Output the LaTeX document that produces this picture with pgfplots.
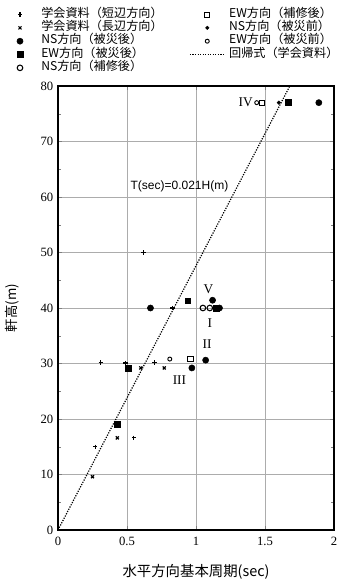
\documentclass[border=0pt]{standalone}
\usepackage{fontspec}
\setmainfont{Liberation Serif}
\newfontfamily\jp{Noto Sans CJK JP}
\newfontfamily\sans{Liberation Sans}
\usepackage{pgfplots}
\pgfplotsset{compat=1.18}
\pgfplotsset{marklegend/.style={legend image code/.code={\path[draw=none,fill=none] (0pt,-2pt) rectangle (26pt,2pt);\draw[mark repeat=2,mark phase=2,##1] plot coordinates {(0pt,0pt) (13pt,0pt) (26pt,0pt)};}},
  linelegend/.style={legend image code/.code={\path[draw=none,fill=none] (0pt,-2pt) rectangle (26pt,2pt);\draw[##1] (0pt,0pt) -- (26pt,0pt);}}}
\begin{document}
\begin{tikzpicture}
\begin{axis}[
  at={(43.5pt,36.75pt)}, anchor=south west,
  scale only axis, width=207pt, height=333pt,
  xmin=0, xmax=2, ymin=0, ymax=80,
  xtick={0,0.5,1,1.5,2}, xticklabels={0,0.5,1,1.5,2},
  ytick={0,10,...,80},
  minor y tick num=1,
  tick align=inside,
  major tick length=3pt, minor tick length=2pt,
  grid=major,
  major grid style={gray!65, line width=0.5pt},
  axis line style={line width=0.8pt},
  /pgf/number format/assume math mode=true,
  tick label style={font=\fontsize{9.5}{10}\selectfont},
  xticklabel style={yshift=-2pt},
  xlabel={\jp 水平方向基本周期(sec)},
  ylabel={\jp 軒高(m)},
  xlabel style={at={(axis description cs:0.5,-0.095)}, anchor=center, font=\fontsize{10.8}{11}\selectfont},
  ylabel style={at={(axis description cs:-0.167,0.5)}, anchor=center, font=\fontsize{10}{11}\selectfont},
  legend columns=2,
  legend cell align=left,
  legend style={at={(axis description cs:-0.2005,1.176)}, anchor=north west,
    draw=none, fill=none, inner sep=0pt, outer sep=0pt,
    font=\jp\fontsize{9.1}{10}\selectfont,
    nodes={inner sep=0pt, text height=7pt, text depth=3pt, font=\jp\fontsize{9.1}{10}\selectfont},
    /tikz/every odd column/.append style={column sep=3pt},
    /tikz/every even column/.append style={column sep=20pt}},
]
% row 1
\addplot[only marks, mark=+, mark size=1.6pt, line width=0.9pt, black, marklegend] coordinates {
 (0.27,15.0) (0.31,30.2) (0.49,30.1) (0.70,30.2) (0.83,40.0) (0.62,50.0) (0.55,16.6)};
\addlegendentry{学会資料（短辺方向）}
\addplot[only marks, mark=square, mark size=1.9pt, line width=0.7pt, black, marklegend] coordinates {
 (0.96,30.8) (1.48,77.0)};
\addlegendentry{EW方向（補修後）}
% row 2
\addplot[only marks, mark=x, mark size=1.6pt, line width=0.9pt, black, marklegend] coordinates {
 (0.60,29.2) (0.77,29.2) (0.43,16.6) (0.25,9.6) (0.44,19.0)};
\addlegendentry{学会資料（長辺方向）}
\addplot[only marks, mark=*, mark size=1.3pt, black, marklegend] coordinates {
 (1.60,77.0) (1.13,40.0)};
\addlegendentry{NS方向（被災前）}
% row 3
\addplot[only marks, mark=*, mark size=2.3pt, black, marklegend] coordinates {
 (1.89,77.0) (1.12,41.4) (1.17,40.0) (0.97,29.2) (1.07,30.6) (0.67,40.0)};
\addlegendentry{NS方向（被災後）}
\addplot[only marks, mark=o, mark size=1.5pt, line width=0.7pt, black, marklegend] coordinates {
 (0.81,30.8) (1.44,77.0)};
\addlegendentry{EW方向（被災前）}
% row 4
\addplot[only marks, mark=square*, mark size=2.2pt, black, marklegend] coordinates {
 (1.67,77.0) (0.94,41.3) (1.15,40.0) (0.51,29.2) (0.43,19.1)};
\addlegendentry{EW方向（被災後）}
\addplot[densely dotted, line width=0.9pt, black, linelegend] coordinates {(0,0) (1.68,80)};
\addlegendentry{回帰式（学会資料）}
% row 5
\addplot[only marks, mark=o, mark size=2.1pt, line width=0.8pt, black, marklegend] coordinates {
 (1.05,40.0) (1.10,40.0)};
\addlegendentry{NS方向（補修後）}

\node[font=\sans\fontsize{9}{10}\selectfont] at (axis cs:0.88,62) {T(sec)=0.021H(m)};
\node[font=\fontsize{10}{10}\selectfont] at (axis cs:1.36,77) {IV};
\node[font=\fontsize{10}{10}\selectfont] at (axis cs:1.09,43.4) {V};
\node[font=\fontsize{10}{10}\selectfont] at (axis cs:1.10,37.3) {I};
\node[font=\fontsize{10}{10}\selectfont] at (axis cs:1.08,33.4) {II};
\node[font=\fontsize{10}{10}\selectfont] at (axis cs:0.88,27.0) {III};
\end{axis}
\pgfresetboundingbox
\path (0,0) rectangle (253.5pt,434.25pt);
\end{tikzpicture}
\end{document}
